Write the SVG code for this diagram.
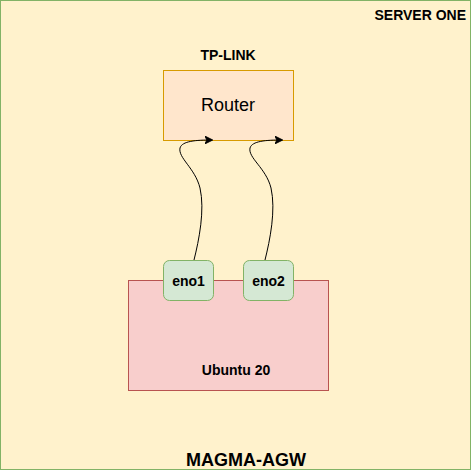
<svg xmlns="http://www.w3.org/2000/svg" width="474" height="472" viewBox="0 0 474 472">
<style>
.b{font-family:"Liberation Sans",Arial,sans-serif;font-weight:bold;fill:#000}
.r{font-family:"Liberation Sans",Arial,sans-serif;fill:#000}
.e{fill:none;stroke:#000;stroke-width:1}
</style>
<defs>
<marker id="ar" viewBox="0 0 10 10" refX="9" refY="5" markerWidth="8" markerHeight="8" markerUnits="userSpaceOnUse" orient="auto">
<path d="M0,0 L10,5 L0,10 L2.5,5 Z" fill="#000" stroke="#000" stroke-width="1"/>
</marker>
</defs>
<g id="server">
<rect x="0.5" y="0.5" width="470" height="469" fill="#fff2cc" stroke="#82b366"/>
<text class="b" x="466" y="19.5" font-size="14" text-anchor="end">SERVER ONE</text>
<text class="b" x="246" y="466" font-size="18" text-anchor="middle">MAGMA-AGW</text>
</g>
<g id="router">
<rect x="163.5" y="70.5" width="130" height="70" fill="#ffe6cc" stroke="#d79b00"/>
<text class="b" x="228" y="60" font-size="14" text-anchor="middle">TP-LINK</text>
<text class="r" x="228" y="111" font-size="18" text-anchor="middle">Router</text>
</g>
<g id="ubuntu">
<rect x="128.5" y="280.5" width="200" height="110" fill="#f8cecc" stroke="#b85450"/>
<text class="b" x="236" y="375" font-size="14" text-anchor="middle">Ubuntu 20</text>
</g>
<g id="eno1">
<rect x="163.5" y="260.5" width="50" height="40" rx="6" fill="#d5e8d4" stroke="#82b366"/>
<text class="b" x="188.5" y="285.5" font-size="14" text-anchor="middle">eno1</text>
</g>
<g id="eno2">
<rect x="243.5" y="260.5" width="50" height="40" rx="6" fill="#d5e8d4" stroke="#82b366"/>
<text class="b" x="268.5" y="285.5" font-size="14" text-anchor="middle">eno2</text>
</g>
<g id="connectors">
<path class="e" d="M194,260 C199,240 205,210 200,188 C195,168 178,158 180,148 C182,141 196,140 212,140" marker-end="url(#ar)"/>
<path class="e" d="M265,260 C270,240 276,210 271,188 C266,168 248,158 250,148 C252,141 266,140 282,140" marker-end="url(#ar)"/>
</g>
</svg>
